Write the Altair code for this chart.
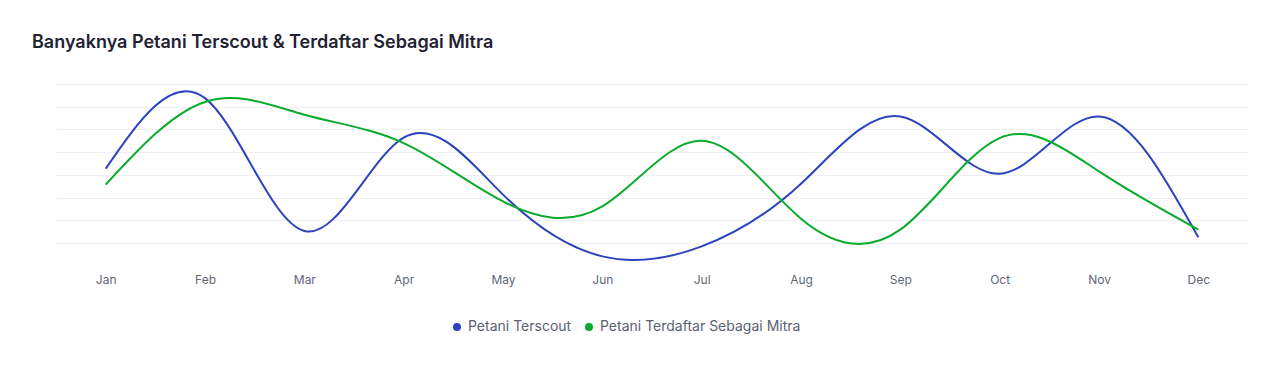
import altair as alt
import pandas as pd

months = ["Jan", "Feb", "Mar", "Apr", "May", "Jun", "Jul", "Aug", "Sep", "Oct", "Nov", "Dec"]
series_names = ["Petani Terscout", "Petani Terdaftar Sebagai Mitra"]
terscout = [42.7, 73.8, 15.3, 56.4, 31.3, 4.1, 8.5, 36.1, 65.7, 40.5, 65.7, 12.5]
terdaftar = [35.7, 72.1, 66.5, 54.0, 28.3, 26.1, 55.0, 20.7, 15.9, 56.2, 41.5, 15.9]
grid_values = [10, 20, 30, 40, 50, 60, 70, 80]
colors = ["#2B44BE", "#0AAA2C"]
title_text = "Banyaknya Petani Terscout & Terdaftar Sebagai Mitra"

rows = []
for name, vals in zip(series_names, [terscout, terdaftar]):
    for i, (m, v) in enumerate(zip(months, vals)):
        rows.append({"month": m, "value": v, "series": name, "order": i})
df = pd.DataFrame(rows)

FONT = "Inter"

chart = (
    alt.Chart(df)
    .mark_line(interpolate="natural", strokeWidth=2)
    .encode(
        x=alt.X(
            "month:N",
            sort=months,
            scale=alt.Scale(type="point", padding=0.5),
            axis=alt.Axis(
                title=None, labelAngle=0, domain=False, ticks=False, grid=False,
                labelFont=FONT, labelFontSize=12, labelColor="#5F6675", labelPadding=31,
            ),
        ),
        y=alt.Y(
            "value:Q",
            scale=alt.Scale(domain=[10, 80], nice=False, zero=False),
            axis=alt.Axis(
                title=None, labels=False, domain=False, ticks=False,
                values=grid_values, gridColor="#EFF0F3", gridWidth=1,
            ),
        ),
        color=alt.Color(
            "series:N",
            sort=series_names,
            scale=alt.Scale(domain=series_names, range=colors),
            legend=alt.Legend(
                title=None, orient="none", direction="horizontal",
                legendX=394, legendY=236, padding=0,
                symbolType="circle", symbolSize=16, symbolStrokeWidth=4,
                labelFont=FONT, labelFontSize=14, labelColor="#5B6170",
                labelOffset=4, columnPadding=7, labelLimit=0,
            ),
        ),
        order="order:Q",
    )
    .properties(
        width=1192,
        height=159,
        padding={"left": 48, "top": 76, "right": 24, "bottom": 122},
        autosize=alt.AutoSizeParams(type="none"),
        background="white",
        title=alt.Title(
            title_text, anchor="start", frame="group", dx=-24, offset=32,
            font=FONT, fontSize=18, fontWeight=600, color="#1F2232",
        ),
    )
    .configure_view(stroke=None)
)

chart.save("out.html", embed_options={"renderer": "svg", "actions": False})
